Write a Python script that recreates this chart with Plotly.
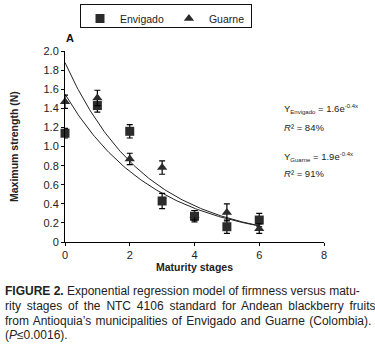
import numpy as np
import plotly.graph_objects as go

stages = [0, 1, 2, 3, 4, 5, 6]
envigado = [1.14, 1.43, 1.16, 0.43, 0.27, 0.16, 0.23]
envigado_err = [0.05, 0.07, 0.07, 0.08, 0.06, 0.07, 0.07]
guarne = [1.47, 1.51, 0.87, 0.78, 0.28, 0.31, 0.14]
guarne_err = [0.07, 0.08, 0.06, 0.07, 0.05, 0.09, 0.05]

# fitted exponential models (a * exp(-b x)) as drawn
upper_model = [1.88, 0.40]
lower_model = [1.55, 0.37]

y_ticks = [0, 0.2, 0.4, 0.6, 0.8, 1.0, 1.2, 1.4, 1.6, 1.8, 2.0]
y_ticktext = ["0", "0.2", "0.4", "0.6", "0.8", "1.0", "1.2", "1.4", "1.6", "1.8", "2.0"]
x_ticks = [0, 2, 4, 6, 8]

FONT = "Liberation Sans, Arial, sans-serif"

xs = np.linspace(0, 6, 120)
fig = go.Figure()
for a, b in (upper_model, lower_model):
    fig.add_trace(go.Scatter(x=xs, y=a * np.exp(-b * xs), mode="lines",
                             line=dict(color="#222", width=1), showlegend=False,
                             hoverinfo="skip"))

fig.add_trace(go.Scatter(x=stages, y=envigado, mode="markers", name="Envigado",
                         marker=dict(symbol="square", size=9, color="#2b2b2b",
                                     line=dict(color="#2b2b2b", width=0)),
                         error_y=dict(type="data", array=envigado_err, color="black",
                                      thickness=1.2, width=3),
                         cliponaxis=False))
fig.add_trace(go.Scatter(x=stages, y=guarne, mode="markers", name="Guarne",
                         marker=dict(symbol="triangle-up", size=9, color="#2b2b2b"),
                         error_y=dict(type="data", array=guarne_err, color="black",
                                      thickness=1.2, width=3),
                         cliponaxis=False))

L, R, T, B = 65, 51, 50, 107
W, H = 375, 349
pw, ph = W - L - R, H - T - B


def px(xp, yp):
    return (xp - L) / pw, (H - B - yp) / ph


ann_font = dict(family=FONT, size=9.5, color="#222")
final_ann = []
# legend frame (drawn as an empty bordered annotation)
fx, fy = px(80, 3)
final_ann.append(dict(x=fx, y=fy, xref="paper", yref="paper", text=" ", showarrow=False,
                      xanchor="left", yanchor="top", width=170, height=22,
                      bordercolor="#111", borderwidth=1, borderpad=0,
                      bgcolor="rgba(0,0,0,0)"))
ax, ay = px(64, 37)
final_ann.append(dict(x=ax, y=ay, xref="paper", yref="paper", text="<b>A</b>", showarrow=False,
                      xanchor="left", yanchor="middle", font=dict(family=FONT, size=11, color="#111")))
SUB = '<span style="font-size:6px">{}</span>'
for (xp, yp, txt) in [
    (282, 108, "Y<sub>" + SUB.format("Envigado") + "</sub> = 1.6e<sup>" + SUB.format("-0.4x") + "</sup>"),
    (282, 127, "<i>R</i>² = 84%"),
    (282, 156, "Y<sub>" + SUB.format("Guarne") + "</sub> = 1.9e<sup>" + SUB.format("-0.4x") + "</sup>"),
    (282, 173, "<i>R</i>² = 91%"),
]:
    x0, y0 = px(xp, yp)
    final_ann.append(dict(x=x0, y=y0, xref="paper", yref="paper", text=txt, showarrow=False,
                          xanchor="left", yanchor="middle", font=ann_font))

caption = [
    "<b>FIGURE 2.</b> Exponential regression model of firmness versus matu-",
    "rity stages of the NTC 4106 standard for Andean blackberry fruits",
    "from Antioquia’s municipalities of Envigado and Guarne (Colombia).",
    "(<i>P</i>≤0.0016).",
]
caption_wordspacing = [0, 2.5, 1.0, 0]
for i, line in enumerate(caption):
    x0, y0 = px(3, 291 + 15 * i)
    txt = '<span style="word-spacing:{}px">{}</span>'.format(caption_wordspacing[i], line) \
        if caption_wordspacing[i] else line
    final_ann.append(dict(x=x0, y=y0, xref="paper", yref="paper",
                          text=txt, showarrow=False, xanchor="left", yanchor="middle",
                          font=dict(family=FONT, size=12, color="#222")))

fig.update_layout(
    width=W, height=H, margin=dict(l=L, r=R, t=T, b=B),
    paper_bgcolor="white", plot_bgcolor="white",
    font=dict(family=FONT, size=11, color="#222"),
    showlegend=True,
    legend=dict(orientation="h", xref="container", yref="container", x=80 / W, y=1 - 4 / H,
                xanchor="left", yanchor="top", bgcolor="rgba(0,0,0,0)",
                borderwidth=0, font=dict(family=FONT, size=10.5, color="#222"),
                itemwidth=30, tracegroupgap=0),
    xaxis=dict(range=[0, 8], tickvals=x_ticks, showline=True, linecolor="black", linewidth=1,
               ticks="outside", ticklen=3, tickcolor="black", showgrid=False, zeroline=False,
               title=dict(text="<b>Maturity stages</b>", font=dict(size=10.5), standoff=2),
               tickfont=dict(size=11)),
    yaxis=dict(range=[0, 2], tickvals=y_ticks, ticktext=y_ticktext, showline=True, linecolor="black",
               linewidth=1, ticks="outside", ticklen=3, tickcolor="black", showgrid=False,
               zeroline=False, title=dict(text="<b>Maximum strength (N)</b>", font=dict(size=10.5), standoff=22),
               tickfont=dict(size=11)),
    annotations=final_ann,
)
fig.write_html("out.html", config={"displayModeBar": False},
               post_script="document.body.style.margin='0';")
